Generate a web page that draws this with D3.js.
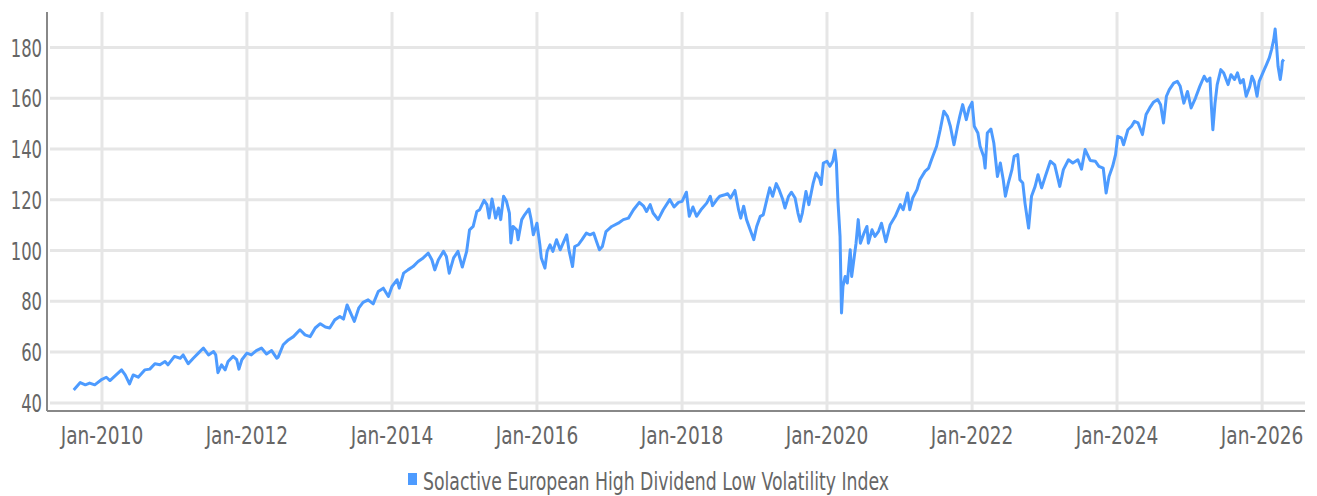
<!DOCTYPE html>
<html>
<head>
<meta charset="utf-8">
<script src="https://cdn.jsdelivr.net/npm/d3@7"></script>
<style>
  body { margin: 0; background: #fff; }
  svg text { font-family: "DejaVu Sans Condensed", "Liberation Sans", sans-serif; fill: #666; }
</style>
</head>
<body>
<svg id="chart" width="1317" height="496"></svg>
<script>
// series name
const seriesName = "Solactive European High Dividend Low Volatility Index";

// dates as decimal years
const years = [
  2009.61, 2009.70, 2009.77, 2009.83, 2009.90, 2010.00, 2010.06, 2010.11, 2010.18, 2010.27,
  2010.32, 2010.38, 2010.43, 2010.50, 2010.59, 2010.66, 2010.73, 2010.80, 2010.87, 2010.91,
  2011.00, 2011.08, 2011.12, 2011.19, 2011.26, 2011.33, 2011.40, 2011.47, 2011.54, 2011.57,
  2011.60, 2011.65, 2011.70, 2011.74, 2011.81, 2011.86, 2011.89, 2011.93, 2012.00, 2012.06,
  2012.13, 2012.20, 2012.27, 2012.34, 2012.41, 2012.43, 2012.50, 2012.57, 2012.64, 2012.73,
  2012.80, 2012.87, 2012.94, 2013.01, 2013.08, 2013.14, 2013.21, 2013.28, 2013.33, 2013.38,
  2013.44, 2013.48, 2013.54, 2013.60, 2013.67, 2013.74, 2013.81, 2013.88, 2013.95, 2014.00,
  2014.07, 2014.10, 2014.16, 2014.22, 2014.29, 2014.36, 2014.43, 2014.50, 2014.55, 2014.59,
  2014.64, 2014.71, 2014.75, 2014.79, 2014.85, 2014.91, 2014.97, 2015.03, 2015.07, 2015.12,
  2015.17, 2015.21, 2015.27, 2015.31, 2015.34, 2015.38, 2015.43, 2015.47, 2015.50, 2015.54,
  2015.58, 2015.62, 2015.64, 2015.67, 2015.72, 2015.74, 2015.79, 2015.83, 2015.89, 2015.92,
  2015.95, 2016.00, 2016.04, 2016.06, 2016.11, 2016.14, 2016.18, 2016.22, 2016.27, 2016.32,
  2016.36, 2016.41, 2016.44, 2016.49, 2016.52, 2016.57, 2016.62, 2016.68, 2016.73, 2016.78,
  2016.82, 2016.86, 2016.90, 2016.95, 2017.03, 2017.12, 2017.19, 2017.26, 2017.33, 2017.41,
  2017.47, 2017.51, 2017.56, 2017.60, 2017.67, 2017.74, 2017.83, 2017.89, 2017.95, 2018.00,
  2018.06, 2018.10, 2018.15, 2018.20, 2018.27, 2018.34, 2018.39, 2018.42, 2018.48, 2018.52,
  2018.59, 2018.63, 2018.67, 2018.73, 2018.78, 2018.81, 2018.85, 2018.89, 2018.94, 2018.99,
  2019.03, 2019.08, 2019.12, 2019.17, 2019.21, 2019.25, 2019.30, 2019.34, 2019.39, 2019.42,
  2019.47, 2019.51, 2019.56, 2019.60, 2019.63, 2019.66, 2019.71, 2019.75, 2019.81, 2019.85,
  2019.90, 2019.92, 2019.95, 2020.00, 2020.04, 2020.08, 2020.11, 2020.13, 2020.15, 2020.18,
  2020.20, 2020.22, 2020.25, 2020.28, 2020.32, 2020.34, 2020.37, 2020.40, 2020.43, 2020.46,
  2020.51, 2020.55, 2020.57, 2020.62, 2020.66, 2020.71, 2020.75, 2020.81, 2020.87, 2020.94,
  2021.01, 2021.05, 2021.11, 2021.14, 2021.18, 2021.24, 2021.28, 2021.35, 2021.40, 2021.44,
  2021.51, 2021.56, 2021.61, 2021.66, 2021.70, 2021.75, 2021.80, 2021.83, 2021.87, 2021.92,
  2021.96, 2022.00, 2022.03, 2022.08, 2022.11, 2022.16, 2022.18, 2022.21, 2022.26, 2022.30,
  2022.35, 2022.39, 2022.43, 2022.46, 2022.50, 2022.55, 2022.58, 2022.63, 2022.66, 2022.70,
  2022.73, 2022.78, 2022.82, 2022.87, 2022.91, 2022.96, 2023.01, 2023.08, 2023.14, 2023.21,
  2023.26, 2023.33, 2023.39, 2023.46, 2023.51, 2023.56, 2023.63, 2023.70, 2023.75, 2023.81,
  2023.85, 2023.89, 2023.94, 2023.98, 2024.01, 2024.06, 2024.09, 2024.15, 2024.20, 2024.24,
  2024.29, 2024.35, 2024.40, 2024.45, 2024.50, 2024.56, 2024.60, 2024.64, 2024.68, 2024.72,
  2024.78, 2024.83, 2024.87, 2024.92, 2024.97, 2025.02, 2025.08, 2025.14, 2025.20, 2025.24,
  2025.28, 2025.30, 2025.32, 2025.35, 2025.38, 2025.43, 2025.47, 2025.53, 2025.57, 2025.62,
  2025.66, 2025.70, 2025.74, 2025.78, 2025.83, 2025.86, 2025.89, 2025.93, 2025.96, 2026.02,
  2026.06, 2026.10, 2026.13, 2026.16, 2026.18, 2026.20, 2026.22, 2026.25, 2026.27, 2026.28,
  2026.30
];

// index level at each date
const values = [
  45.1, 48.0, 47.1, 47.8, 47.1, 49.3, 50.1, 48.8, 50.6, 53.0,
  51.0, 47.5, 51.0, 50.1, 53.0, 53.3, 55.4, 55.0, 56.3, 55.0,
  58.3, 57.6, 58.9, 55.4, 57.6, 59.6, 61.6, 58.9, 60.2, 58.9,
  51.9, 55.0, 53.0, 56.3, 58.3, 57.0, 53.3, 57.0, 59.6, 58.9,
  60.6, 61.6, 59.3, 60.6, 57.6, 58.0, 62.9, 64.8, 66.1, 68.8,
  66.8, 66.1, 69.5, 71.2, 69.9, 69.5, 72.7, 74.0, 73.0, 78.6,
  74.7, 72.1, 77.3, 79.6, 80.6, 79.0, 83.9, 85.2, 81.9, 85.9,
  88.5, 85.2, 91.1, 92.4, 93.7, 95.7, 97.1, 99.0, 96.4, 92.4,
  96.4, 99.7, 97.7, 91.1, 97.1, 99.7, 93.5, 99.7, 108.2, 109.5,
  115.4, 116.1, 119.8, 118.1, 112.8, 120.3, 112.8, 116.8, 112.2, 121.4,
  119.4, 114.8, 103.0, 109.5, 108.2, 104.3, 112.2, 114.1, 116.4, 112.2,
  106.2, 110.8, 102.3, 97.1, 93.1, 99.7, 102.3, 99.7, 104.3, 100.3,
  102.9, 106.2, 100.3, 93.7, 101.6, 102.3, 104.3, 106.9, 106.2, 106.9,
  103.6, 100.3, 101.6, 107.5, 109.5, 110.8, 112.2, 112.8, 116.1, 119.0,
  117.5, 115.4, 118.1, 114.8, 112.2, 116.1, 120.1, 117.2, 119.0, 119.4,
  123.0, 113.5, 117.2, 113.5, 116.4, 118.7, 121.4, 117.7, 120.1, 121.4,
  122.0, 122.4, 120.7, 123.7, 116.1, 112.8, 117.5, 112.2, 108.2, 104.3,
  109.5, 113.5, 114.1, 120.1, 124.7, 121.4, 126.4, 124.0, 120.1, 116.8,
  121.4, 123.0, 120.7, 114.8, 111.5, 114.8, 123.3, 118.1, 126.6, 130.6,
  128.2, 126.0, 134.5, 135.2, 133.2, 135.2, 139.5, 134.5, 120.1, 105.6,
  75.4, 85.9, 89.8, 87.2, 100.3, 89.8, 96.4, 102.9, 112.2, 102.9,
  106.9, 109.5, 102.9, 108.2, 105.6, 107.6, 110.8, 103.5, 110.2, 113.5,
  118.1, 116.1, 122.7, 116.1, 120.7, 124.0, 127.9, 131.2, 132.5, 135.8,
  141.1, 147.6, 154.9, 152.9, 149.0, 141.7, 149.0, 152.9, 157.5, 151.6,
  156.2, 158.4, 149.0, 146.3, 141.1, 137.1, 132.5, 146.3, 147.9, 142.4,
  129.2, 134.5, 127.9, 121.4, 126.6, 131.9, 137.1, 137.8, 127.9, 126.6,
  118.7, 108.9, 121.4, 125.3, 129.9, 124.7, 129.2, 135.2, 133.8, 125.3,
  131.9, 135.8, 134.5, 135.8, 132.1, 139.8, 135.5, 135.2, 133.2, 132.5,
  122.7, 129.2, 133.2, 137.8, 145.0, 144.4, 141.7, 147.6, 149.0, 150.9,
  150.3, 145.7, 153.6, 156.2, 158.4, 159.5, 157.5, 150.3, 160.8, 163.4,
  166.0, 166.7, 164.7, 158.1, 162.7, 156.2, 160.1, 164.7, 168.7, 166.7,
  168.0, 156.8, 147.6, 158.1, 165.4, 171.3, 170.0, 165.4, 169.3, 167.4,
  170.0, 166.0, 167.4, 160.8, 164.7, 168.7, 166.7, 160.8, 166.7, 170.7,
  173.3, 176.0, 179.2, 183.1, 187.3, 180.5, 172.6, 167.4, 171.3, 174.6,
  175.3
];

// axis ticks
const yTicks = [40, 60, 80, 100, 120, 140, 160, 180];
const xTickYears = [2010, 2012, 2014, 2016, 2018, 2020, 2022, 2024, 2026];

// decimal year -> Date
function toDate(y) {
  const yr = Math.floor(y);
  const start = new Date(yr, 0, 1), end = new Date(yr + 1, 0, 1);
  return new Date(+start + (y - yr) * (end - start));
}

const data = years.map((y, i) => ({ date: toDate(y), value: values[i] }));

const plotLeft = 47, plotRight = 1305, plotTop = 12, plotBottom = 411;

const xScale = d3.scaleTime()
  .domain([new Date(2009, 2, 30), new Date(2026, 7, 5)])
  .range([plotLeft, plotRight]);

const yScale = d3.scaleLinear()
  .domain([36.8, 194])
  .range([plotBottom, plotTop]);

const svg = d3.select("#chart");

// horizontal grid
svg.append("g")
  .selectAll("line")
  .data(yTicks)
  .join("line")
  .attr("x1", plotLeft + 3)
  .attr("x2", plotRight)
  .attr("y1", (d) => yScale(d))
  .attr("y2", (d) => yScale(d))
  .attr("stroke", "#e6e6e6")
  .attr("stroke-width", 3);

// vertical grid
const xTicks = xTickYears.map((y) => new Date(y, 0, 1));
svg.append("g")
  .selectAll("line")
  .data(xTicks)
  .join("line")
  .attr("x1", (d) => xScale(d))
  .attr("x2", (d) => xScale(d))
  .attr("y1", plotTop)
  .attr("y2", plotBottom)
  .attr("stroke", "#e6e6e6")
  .attr("stroke-width", 3);

// y labels (condensed horizontally, the original font is narrow)
svg.append("g")
  .selectAll("text")
  .data(yTicks)
  .join("text")
  .attr("transform", (d) => `translate(${plotLeft - 5},${yScale(d) + 9}) scale(0.76,1)`)
  .attr("text-anchor", "end")
  .attr("font-size", 24)
  .text((d) => d);

// x labels
const fmt = d3.timeFormat("%b-%Y");
svg.append("g")
  .selectAll("text")
  .data(xTicks)
  .join("text")
  .attr("transform", (d) => `translate(${xScale(d)},444) scale(0.86,1)`)
  .attr("text-anchor", "middle")
  .attr("font-size", 24)
  .text((d) => fmt(d));

// axis lines
svg.append("line")
  .attr("x1", plotLeft).attr("x2", plotLeft)
  .attr("y1", plotTop).attr("y2", plotBottom)
  .attr("stroke", "#888").attr("stroke-width", 2);
svg.append("line")
  .attr("x1", plotLeft).attr("x2", plotRight)
  .attr("y1", plotBottom).attr("y2", plotBottom)
  .attr("stroke", "#888").attr("stroke-width", 2);

// the series
const line = d3.line()
  .x((d) => xScale(d.date))
  .y((d) => yScale(d.value));

svg.append("path")
  .datum(data)
  .attr("d", line)
  .attr("fill", "none")
  .attr("stroke", "#4d9bff")
  .attr("stroke-width", 3)
  .attr("stroke-linejoin", "round");

// legend
const legend = svg.append("g").attr("transform", "translate(408, 473)");
legend.append("rect")
  .attr("width", 9)
  .attr("height", 12)
  .attr("fill", "#4d9bff");
legend.append("text")
  .attr("transform", "translate(15,17) scale(0.8,1)")
  .attr("font-size", 24)
  .text(seriesName);
</script>
</body>
</html>
